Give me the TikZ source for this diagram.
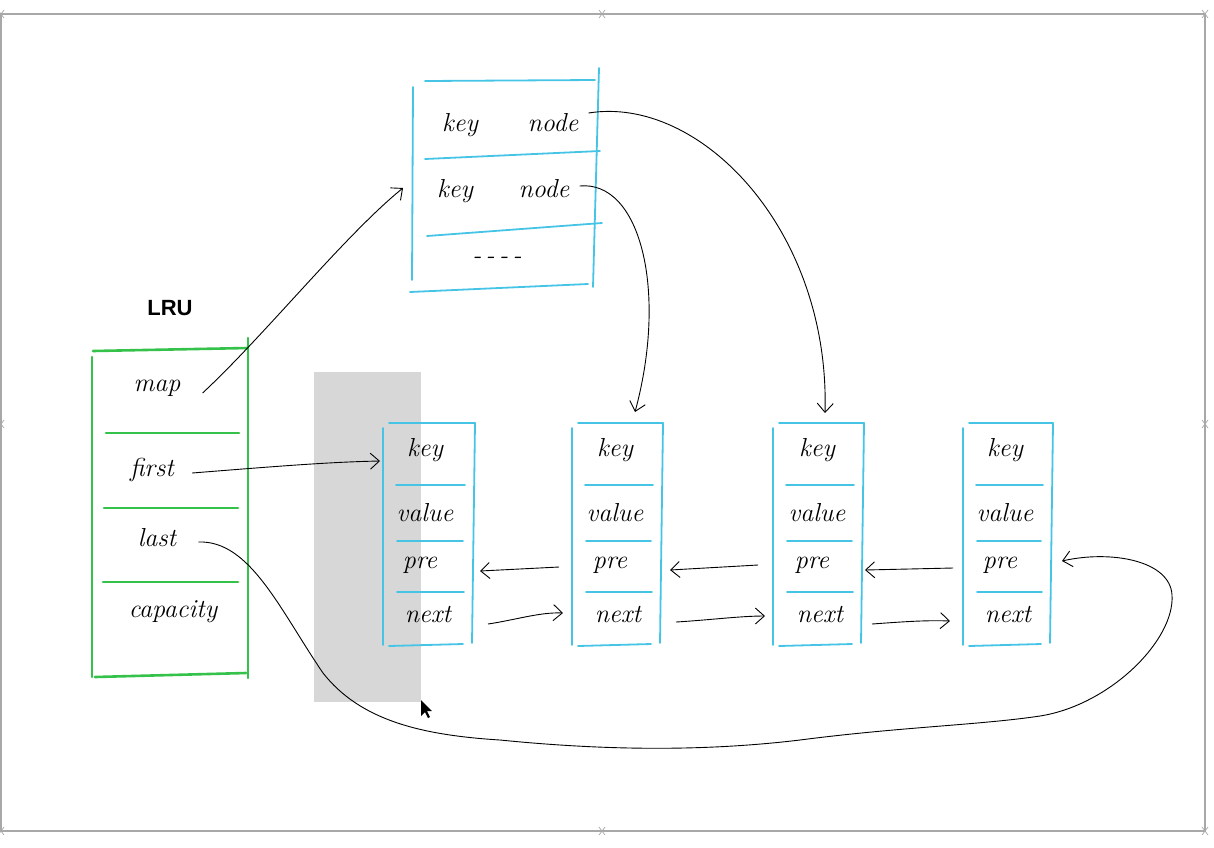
\documentclass[tikz,border=0pt]{standalone}
\usepackage{fontspec}
\newfontfamily\lrufont{Liberation Sans}
\usetikzlibrary{arrows.meta}
\definecolor{cyanline}{HTML}{45C4E6}
\definecolor{greenline}{HTML}{35C24B}
\definecolor{framegray}{HTML}{A8A8A8}
\definecolor{selgray}{HTML}{D7D7D7}
\begin{document}
\begin{tikzpicture}[x=1pt,y=-1pt,
  hand/.style={font=\fontsize{26}{30}\selectfont\itshape, inner sep=0pt},
  cy/.style={draw=cyanline, line width=1.8pt, line cap=round},
  gr/.style={draw=greenline, line width=2.6pt, line cap=round},
  conn/.style={line width=0.9pt, -{Straight Barb[length=9pt,width=16pt,line width=0.9pt]}},
  handle/.style={draw=framegray, line width=0.7pt}]
\useasboundingbox (0,0) rectangle (1214,847);

% screenshot frame
\draw[framegray, line width=1.2pt] (1,14) rectangle (1205,831);
\foreach \p in {(602,14),(1205,14),(602,831),(1205,831),(1205,424),(1,424),(1,14),(1,831)}
  \draw[handle] \p +(-3,-4) -- +(3,4) \p +(-3,4) -- +(3,-4);

% shaded selection
\fill[selgray] (314,372) rectangle (421,702);

% hash table
\draw[cy] (413,87) -- (412,280);
\draw[cy] (599,68) -- (593,287);
\draw[cy] (425,81) -- (595,80);
\draw[cy] (425,159) -- (600,151);
\draw[cy] (427,236) -- (602,223);
\draw[cy] (410,292) -- (588,284);
\node[hand] (hk1) at (460,125) {key};
\node[hand] (hn1) at (553,123) {node};
\node[hand] (hk2) at (455,191) {key};
\node[hand] (hn2) at (544,189) {node};
\node[hand] (hdots) at (497,260) {-\,-\,-\,-};

% LRU
\node[font=\lrufont\bfseries\fontsize{22}{24}\selectfont] (lru) at (170,308) {LRU};
\draw[gr] (93,351) -- (248,348);
\draw[gr] (92,357) -- (92,677);
\draw[gr] (248,338) -- (248,678);
\draw[gr] (95,677) -- (246,673);
\draw[gr] (106,433) -- (239,433);
\draw[gr] (104,508) -- (238,508);
\draw[gr] (103,582) -- (238,582);
\node[hand] (map) at (157,388) {map};
\node[hand] (first) at (152,470) {first};
\node[hand] (last) at (157,538) {last};
\node[hand] (cap) at (173,612) {capacity};

% list nodes
\foreach \n/\l/\r/\c in {1/383/475/425, 2/572/663/615, 3/773/864/817, 4/963/1053/1005} {
  \draw[cy] (\l,428) -- (\l,645);
  \draw[cy] (\r,423) -- (\r-3,643);
  \draw[cy] (\l+6,423) -- (\r,423);
  \draw[cy] (\l+13,485) -- (\r-10,485);
  \draw[cy] (\l+14,541) -- (\r-12,541);
  \draw[cy] (\l+14,592) -- (\r-11,592);
  \draw[cy] (\l+6,646) -- (\r-12,644);
  \node[hand] (k\n) at (\c,450) {key};
  \node[hand] (v\n) at (\c,513) {value};
  \node[hand] (p\n) at (\c-5,565) {pre};
  \node[hand] (x\n) at (\c+3,614) {next};
}

% connector end points on boxes
\coordinate (htin) at (403,188);
\coordinate (n1in) at (380,461);
\coordinate (n2top) at (635,412);
\coordinate (n3top) at (825,413);
\coordinate (n1pre) at (480,571);
\coordinate (n2pre) at (670,570);
\coordinate (n3pre) at (865,570);
\coordinate (n4pre) at (1062,561);
\coordinate (n2nx) at (563,613);
\coordinate (n3nx) at (765,616);
\coordinate (n4nx) at (950,621);
\coordinate (p2tail) at (559,567);
\coordinate (p3tail) at (758,565);
\coordinate (p4tail) at (953,568);
\coordinate (x1tail) at (488,624);
\coordinate (x2tail) at (676,622);
\coordinate (x3tail) at (872,624);

% connectors
\draw[conn] ([xshift=22pt,yshift=-5pt]map.east) .. controls (265,335) and (345,235) .. (htin);
\draw[conn] ([xshift=18pt,yshift=-3pt]first.east) .. controls (280,466) and (330,462) .. (n1in);
\draw[conn] ([xshift=10pt,yshift=10pt]hn1.east) .. controls (700,95) and (830,230) .. (n3top);
\draw[conn] ([xshift=10pt,yshift=3pt]hn2.east) .. controls (640,180) and (668,290) .. (n2top);
\draw[conn] (p2tail) -- (n1pre);
\draw[conn] (p3tail) -- (n2pre);
\draw[conn] (p4tail) -- (n3pre);
\draw[conn] (x1tail) .. controls (515,620) and (540,612) .. (n2nx);
\draw[conn] (x2tail) .. controls (710,620) and (740,616) .. (n3nx);
\draw[conn] (x3tail) .. controls (900,622) and (925,620) .. (n4nx);
\draw[conn] ([xshift=22pt,yshift=-4pt]last.east) .. controls (250,540) and (280,610) .. (323,673)
  .. controls (360,720) and (420,735) .. (500,740)
  .. controls (600,750) and (700,752) .. (800,740)
  .. controls (900,727) and (980,725) .. (1040,716)
  .. controls (1110,705) and (1175,640) .. (1172,595)
  .. controls (1170,560) and (1110,550) .. (n4pre);

% mouse pointer
\fill[black] (421,700) -- (421,716) -- (425,712) -- (428,718) -- (430,717) -- (427,711) -- (432,711) -- cycle;
\end{tikzpicture}
\end{document}
